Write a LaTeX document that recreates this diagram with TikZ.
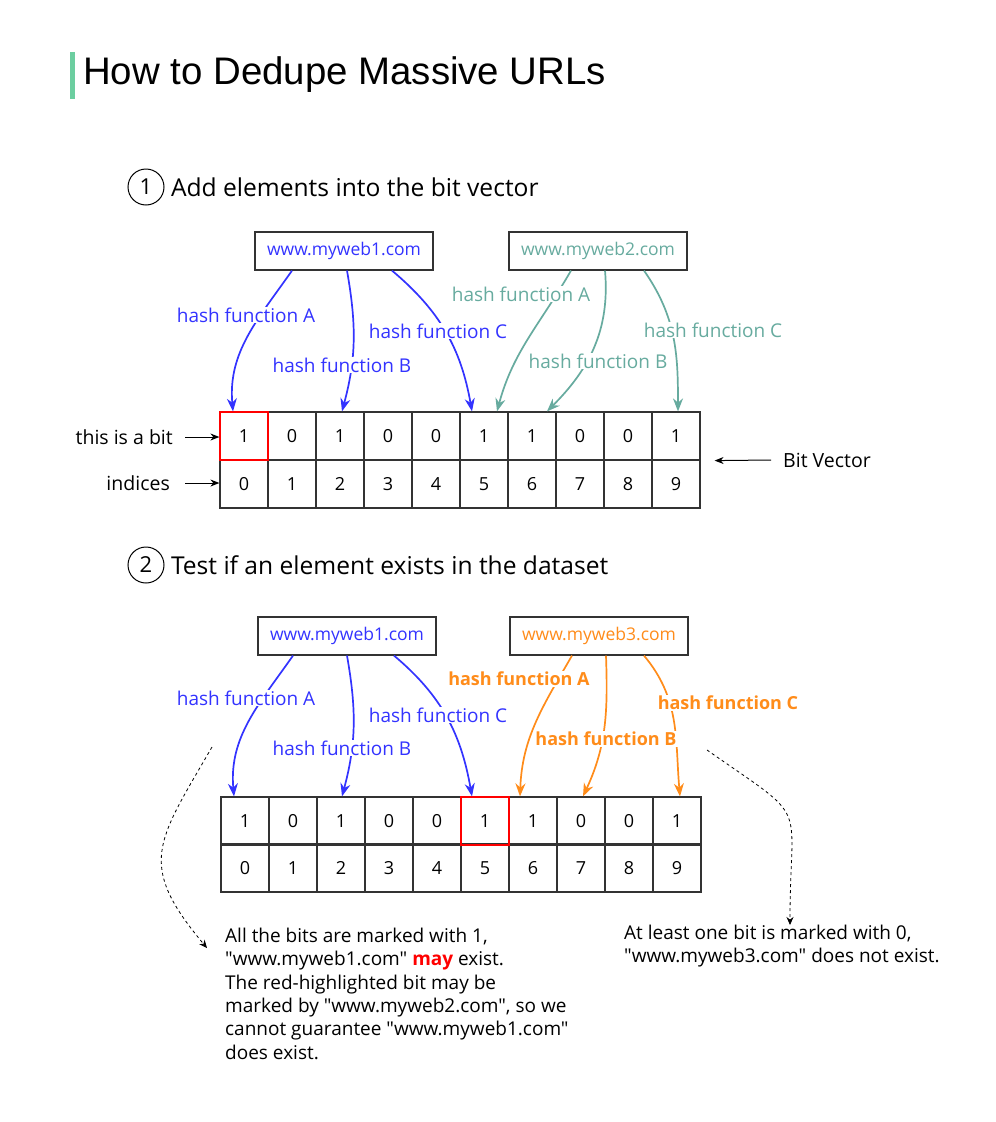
\documentclass[tikz,border=0pt]{standalone}
\usepackage{fontspec}
\setmainfont{Open Sans}[Ligatures=TeXOff]
\newfontfamily\titlefont{Liberation Sans}
\usetikzlibrary{arrows.meta,positioning}
\newcommand{\fs}[2]{\fontsize{#1}{#2}\selectfont}
\definecolor{hblue}{RGB}{51,51,255}
\definecolor{hteal}{RGB}{103,171,159}
\definecolor{horange}{RGB}{255,140,26}
\definecolor{hred}{RGB}{255,0,0}
\definecolor{hgreen}{RGB}{108,206,160}
\definecolor{grid}{RGB}{51,51,51}
\tikzset{
  cell/.style={draw=grid,line width=1.2pt,minimum width=48pt,minimum height=48pt,inner sep=0pt,font=\fs{18}{21}},
  hilite/.style={draw=hred,line width=1.8pt,minimum width=48pt,minimum height=48pt,inner sep=0pt},
  urlbox/.style={draw=grid,line width=1.2pt,minimum width=178pt,minimum height=38pt,inner sep=0pt,font=\fs{17.5}{20}},
  hash/.style={line width=1.7pt,-{Stealth[length=13pt,width=10pt]}},
  hlabel/.style={fill=white,inner sep=1pt,font=\fs{19}{22}},
  pointer/.style={line width=1pt,-{Stealth[length=9pt,width=7pt]}},
  hint/.style={dashed,line width=0.8pt,-{Stealth[length=8pt,width=7pt]}},
  stepno/.style={circle,draw=black,line width=1pt,minimum size=36pt,inner sep=0pt,font=\fs{22}{26}},
  note/.style={align=left,anchor=north west,inner sep=0pt,font=\fs{19}{23.3}},
}
\begin{document}
\begin{tikzpicture}[x=1pt,y=-1pt]
  \useasboundingbox[fill=white] (0,0) rectangle (996,1122);
  % titulo
  \fill[hgreen] (70,52) rectangle (75,99);
  \node[anchor=west,inner sep=0pt,font=\titlefont\fs{38.4}{44}] (title) at (83,75) {How to Dedupe Massive URLs};

  % passo 1
  \node[stepno] (s1) at (146,187) {1};
  \node[right=3pt of s1,font=\fs{24.6}{28}] (h1) {Add elements into the bit vector};
  \node[urlbox,text=hblue] (u1) at (344,251) {www.myweb1.com};
  \node[urlbox,text=hteal] (u2) at (598,251) {www.myweb2.com};
  \foreach \k/\b in {0/1,1/0,2/1,3/0,4/0,5/1,6/1,7/0,8/0,9/1} {
    \node[cell] (a\k) at ({244+48*\k},436) {\b};
    \node[cell] (ai\k) at ({244+48*\k},484) {\k};
  }
  \node[hilite] (red1) at (a0) {};
  % funcoes de hash
  \draw[hash,hblue] ([xshift=-52pt]u1.south) to[out=235,in=95] ([xshift=-11pt]a0.north);
  \draw[hash,hblue] ([xshift=3pt]u1.south) to[out=280,in=75] ([xshift=2pt]a2.north);
  \draw[hash,hblue] ([xshift=48pt]u1.south) to[out=-40,in=100] ([xshift=-12pt]a5.north);
  \draw[hash,hteal] ([xshift=-27pt]u2.south) to[out=240,in=75] ([xshift=13pt]a5.north);
  \draw[hash,hteal] ([xshift=7pt]u2.south) to[out=275,in=45] ([xshift=15pt]a6.north);
  \draw[hash,hteal] ([xshift=46pt]u2.south) to[out=-55,in=90] ([xshift=2pt]a9.north);
  \node[hlabel,text=hblue] (ha1) at (246,315) {hash function A};
  \node[hlabel,text=hblue] (hb1) at (342,365) {hash function B};
  \node[hlabel,text=hblue] (hc1) at (438,331) {hash function C};
  \node[hlabel,text=hteal] (ha2) at (521,294) {hash function A};
  \node[hlabel,text=hteal] (hb2) at (598,361) {hash function B};
  \node[hlabel,text=hteal] (hc2) at (713,330) {hash function C};
  % legendas
  \node[anchor=east,inner sep=0pt,font=\fs{19.5}{22}] (bitlbl) at (173,437) {this is a bit};
  \node[anchor=east,inner sep=0pt,font=\fs{19.5}{22}] (idxlbl) at (170,483) {indices};
  \node[anchor=west,inner sep=0pt,font=\fs{19.5}{22}] (veclbl) at (783,460) {Bit Vector};
  \draw[pointer] ([xshift=12pt]bitlbl.east) -- (bitlbl.east -| a0.west);
  \draw[pointer] ([xshift=15pt]idxlbl.east) -- (idxlbl.east -| ai0.west);
  \draw[pointer] ([xshift=-12pt]veclbl.west) -- ([xshift=14pt]a9.south east);

  % passo 2
  \node[stepno] (s2) at (146,565) {2};
  \node[right=3pt of s2,font=\fs{24.6}{28}] (h2) {Test if an element exists in the dataset};
  \node[urlbox,text=hblue] (v1) at (347,636) {www.myweb1.com};
  \node[urlbox,text=horange] (v3) at (599,636) {www.myweb3.com};
  \foreach \k/\b in {0/1,1/0,2/1,3/0,4/0,5/1,6/1,7/0,8/0,9/1} {
    \node[cell] (b\k) at ({245+48*\k},821) {\b};
    \node[cell] (bi\k) at ({245+48*\k},868) {\k};
  }
  \node[hilite] (red2) at (b5) {};
  \draw[hash,hblue] ([xshift=-54pt]v1.south) to[out=235,in=95] ([xshift=-11pt]b0.north);
  \draw[hash,hblue] ([xshift=0pt]v1.south) to[out=280,in=75] ([xshift=1pt]b2.north);
  \draw[hash,hblue] ([xshift=47pt]v1.south) to[out=-40,in=100] ([xshift=-13pt]b5.north);
  \draw[hash,horange] ([xshift=-27pt]v3.south) to[out=240,in=88] ([xshift=-13pt]b6.north);
  \draw[hash,horange] ([xshift=7pt]v3.south) to[out=272,in=65] ([xshift=2pt]b7.north);
  \draw[hash,horange] ([xshift=45pt]v3.south) to[out=-50,in=95] ([xshift=3pt]b9.north);
  \node[hlabel,text=hblue] (ha3) at (246,698) {hash function A};
  \node[hlabel,text=hblue] (hb3) at (342,748) {hash function B};
  \node[hlabel,text=hblue] (hc3) at (438,715) {hash function C};
  \node[hlabel,text=horange,font=\fs{18}{22}\bfseries] (ha4) at (519,679) {hash function A};
  \node[hlabel,text=horange,font=\fs{18}{22}\bfseries] (hb4) at (606,739) {hash function B};
  \node[hlabel,text=horange,font=\fs{18}{22}\bfseries] (hc4) at (728,703) {hash function C};
  % conclusoes
  \node[note] (may) at (225,928) {All the bits are marked with 1,\\
    "www.myweb1.com" {\bfseries\color{hred}may} exist.\\
    The red-highlighted bit may be\\
    marked by "www.myweb2.com", so we\\
    cannot guarantee "www.myweb1.com"\\
    does exist.};
  \node[note] (nope) at (624,925) {At least one bit is marked with 0,\\
    "www.myweb3.com" does not exist.};
  \coordinate (lt) at (212,747);
  \coordinate (lh) at (207,948);
  \coordinate (rt) at (707,750);
  \coordinate (rh) at (790,925);
  \draw[hint] (lt) to[out=240,in=130,looseness=1.4] (lh);
  \draw[hint] (rt) to[out=-35,in=90,looseness=1.7] (rh);
\end{tikzpicture}
\end{document}
